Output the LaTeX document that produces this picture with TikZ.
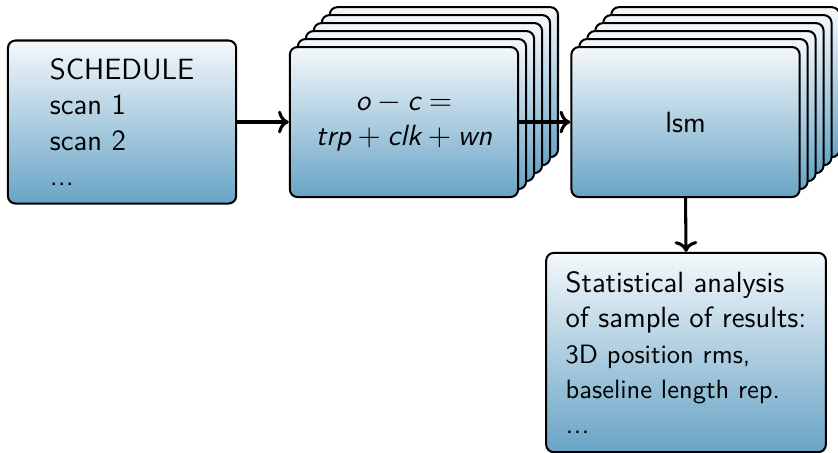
\documentclass[tikz,border=0pt]{standalone}
\usepackage{tikz}
\usetikzlibrary{shapes}
\usetikzlibrary {arrows.meta}

\definecolor{boxtop}{RGB}{244,248,251}
\definecolor{boxbottom}{RGB}{104,164,198}

\tikzset{
  box/.style={rectangle,draw,thick,rounded corners=3pt,top color=boxtop,bottom color=boxbottom,
    minimum width=3.15cm,minimum height=2.07cm,inner sep=0pt,
    font=\sffamily\fontsize{11.5}{13.8}\selectfont},
  flow/.style={->,very thick}
}

\begin{document}
\begin{tikzpicture}
\useasboundingbox (0,0) rectangle (11.564,-6.251);

\node[box,minimum height=2.25cm,align=left] (schedule) at (1.684,-1.684){SCHEDULE\\scan 1\\scan 2\\...};

% stack of runs behind the first box
\foreach \k in {5,4,...,1}
  \node[box] (run\k) at (5.575+\k*0.11,-1.684+\k*0.11){};
\node[box,align=center] (run) at (5.575,-1.684){$\textit{o}-\textit{c}=$\\$\textit{trp}+\textit{clk}+\textit{wn}$};

% stack of solutions behind the second box
\foreach \k in {5,4,...,1}
  \node[box] (lsm\k) at (9.46+\k*0.11,-1.684+\k*0.11){};
\node[box] (lsm) at (9.46,-1.684){lsm};

\node[box,minimum width=3.86cm,minimum height=2.75cm,align=left] (stats) at (9.467,-4.865){Statistical analysis\\of sample of results:\\{\fontsize{10.4}{12.5}\selectfont 3D position rms,}\\{\fontsize{10.4}{12.5}\selectfont baseline length rep.}\\...};

\draw[flow](schedule.east) -- (run.west);
\draw[flow](run.east) -- (lsm.west);
\draw[flow](lsm.south) -- (stats.north);

\end{tikzpicture}
\end{document}
